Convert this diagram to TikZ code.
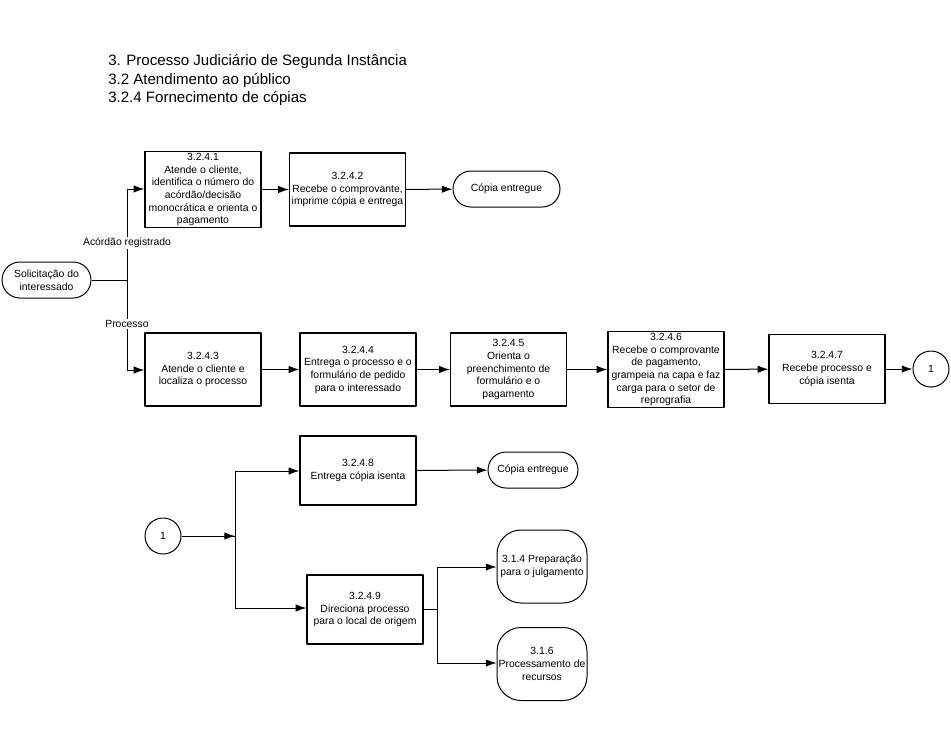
\documentclass[tikz,border=0pt]{standalone}
\usepackage{fontspec}
\setmainfont{Liberation Sans}
\usetikzlibrary{arrows.meta}
\begin{document}
\begin{tikzpicture}[x=0.75pt,y=-0.75pt,line join=round,>={Latex[length=8pt,width=5.5pt]},
  font=\fontsize{7.8}{9.5}\selectfont,
  box/.style={draw,line width=0.9pt,minimum width=87pt,minimum height=54.75pt,align=center,inner sep=1pt},
  lowbox/.style={box,minimum height=51.75pt},
  term/.style={draw,line width=0.75pt,rounded corners=13.5pt,minimum height=27pt,align=center,inner sep=1pt},
  refbox/.style={draw,line width=0.75pt,rounded corners=18pt,minimum width=67.5pt,minimum height=54.75pt,align=center,inner sep=1pt},
  conn/.style={draw,circle,line width=0.75pt,minimum size=27pt,inner sep=0pt},
  lbl/.style={fill=white,inner sep=1pt}]
\useasboundingbox (0,0) rectangle (951,751);
\node[anchor=north west,align=left,inner sep=0pt,font=\fontsize{11.3}{14}\selectfont] (title) at (108,54)
  {3. Processo Judiciário de Segunda Instância\\3.2 Atendimento ao público\\3.2.4 Fornecimento de cópias};
\node[term,minimum width=66.75pt] (start) at (46.5,280) {Solicitação do\\interessado};
\node[box] (b1) at (203,189.5) {3.2.4.1\\Atende o cliente,\\identifica o número do\\acórdão/decisão\\monocrática e orienta o\\pagamento};
\node[box] (b2) at (347.5,189.5) {3.2.4.2\\Recebe o comprovante,\\imprime cópia e entrega};
\node[term,minimum width=80.25pt] (end1) at (506.5,189) {Cópia entregue};
\node[box] (b3) at (203,369.5) {3.2.4.3\\Atende o cliente e\\localiza o processo};
\node[box] (b4) at (358,369.5) {3.2.4.4\\Entrega o processo e o\\formulário de pedido\\para o interessado};
\node[box] (b5) at (508.5,369.5) {3.2.4.5\\Orienta o\\preenchimento de\\formulário e o\\pagamento};
\node[box] (b6) at (666,369.5) {3.2.4.6\\Recebe o comprovante\\de pagamento,\\grampeia na capa e faz\\carga para o setor de\\reprografia};
\node[lowbox] (b7) at (827,369) {3.2.4.7\\Recebe processo e\\cópia isenta};
\node[conn] (c1) at (931,369) {1};
\node[conn] (c2) at (163,536) {1};
\node[lowbox] (b8) at (358,470.5) {3.2.4.8\\Entrega cópia isenta};
\node[term,minimum width=67.5pt] (end2) at (533,470) {Cópia entregue};
\node[lowbox] (b9) at (365,609.5) {3.2.4.9\\Direciona processo\\para o local de origem};
\node[refbox] (r1) at (542,566.5) {3.1.4 Preparação\\para o julgamento};
\node[refbox] (r2) at (542,664) {3.1.6\\Processamento de\\recursos};
\path
  (127,189) coordinate (j1a)
  (127,280) coordinate (j1)
  (127,370) coordinate (j1b)
  (235,471) coordinate (j2a)
  (235,536) coordinate (j2)
  (235,608) coordinate (j2b)
  (437,567) coordinate (j3a)
  (437,609) coordinate (j3)
  (437,663) coordinate (j3b)
  ;
\draw[line width=0.75pt]
  (start.east)--(j1) (j1a)--(j1b)
  (c2.east)--(j2) (j2a)--(j2b)
  (b9.east|-j3)--(j3) (j3a)--(j3b)
  ;
\draw[->,line width=0.75pt] (j2-|c2.east)--(j2);
\node[lbl] (lacord) at (127,243) {Acórdão registrado};
\node[lbl] (lproc) at (127,324) {Processo};
\foreach \a/\b in {j1a/b1,j1b/b3,j2a/b8,j2b/b9,j3a/r1,j3b/r2}
  \draw[->,line width=0.75pt] (\a)--(\a-|\b.west);
\foreach \a/\b in {b1/b2,b2/end1,b3/b4,b4/b5,b5/b6,b6/b7,b7/c1,b8/end2}
  \draw[->,line width=0.75pt] (\a)--(\b);
\end{tikzpicture}
\end{document}
